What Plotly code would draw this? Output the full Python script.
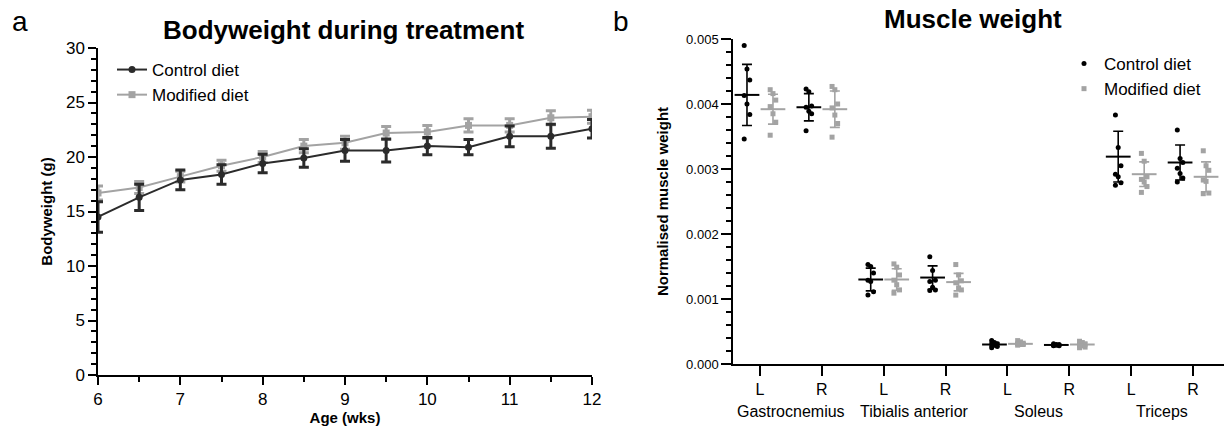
import plotly.graph_objects as go

# ---------------- data: panel a ----------------
ages = [6, 6.5, 7, 7.5, 8, 8.5, 9, 9.5, 10, 10.5, 11, 11.5, 12]
ctrl_bw = [14.5, 16.3, 17.9, 18.4, 19.4, 19.9, 20.6, 20.6, 21.0, 20.9, 21.9, 21.9, 22.6]
ctrl_bw_err = [1.4, 1.2, 0.9, 0.9, 0.85, 0.85, 1.0, 1.05, 0.8, 0.7, 0.95, 1.1, 0.85]
mod_bw = [16.7, 17.2, 18.2, 19.2, 20.0, 21.0, 21.3, 22.2, 22.3, 22.9, 22.9, 23.6, 23.7]
mod_bw_err = [0.65, 0.55, 0.5, 0.5, 0.5, 0.6, 0.6, 0.6, 0.6, 0.6, 0.6, 0.65, 0.6]

# ---------------- data: panel b ----------------
side_labels = ["L", "R", "L", "R", "L", "R", "L", "R"]
muscle_groups = ["Gastrocnemius", "Tibialis anterior", "Soleus", "Triceps"]
ctrl_points = [
    [0.00490, 0.00454, 0.00437, 0.00413, 0.00400, 0.00384, 0.00346],
    [0.00423, 0.00419, 0.00397, 0.00395, 0.00389, 0.00385, 0.00359],
    [0.00153, 0.00150, 0.00140, 0.00129, 0.00127, 0.00111, 0.00106],
    [0.00165, 0.00144, 0.00129, 0.00127, 0.00118, 0.00114, 0.00113],
    [0.00036, 0.00033, 0.00031, 0.00030, 0.00029, 0.00027, 0.00025],
    [0.00031, 0.00030, 0.00030, 0.00029, 0.00029, 0.00028, 0.00028],
    [0.00383, 0.00333, 0.00305, 0.00292, 0.00288, 0.00279, 0.00275],
    [0.00360, 0.00316, 0.00310, 0.00301, 0.00293, 0.00286, 0.00280],
]
mod_points = [
    [0.00422, 0.00416, 0.00406, 0.00396, 0.00385, 0.00372, 0.00352],
    [0.00427, 0.00422, 0.00400, 0.00394, 0.00383, 0.00370, 0.00349],
    [0.00154, 0.00149, 0.00137, 0.00129, 0.00122, 0.00114, 0.00109],
    [0.00153, 0.00137, 0.00128, 0.00125, 0.00117, 0.00114, 0.00106],
    [0.00036, 0.00034, 0.00032, 0.00031, 0.00030, 0.00030, 0.00029],
    [0.00035, 0.00033, 0.00031, 0.00029, 0.00028, 0.00026, 0.00025],
    [0.00324, 0.00312, 0.00288, 0.00284, 0.00280, 0.00273, 0.00264],
    [0.00328, 0.00305, 0.00298, 0.00283, 0.00281, 0.00263, 0.00262],
]
ctrl_mean = [0.00414, 0.00395, 0.00130, 0.00133, 0.00030, 0.000293, 0.00319, 0.00310]
ctrl_sd = [0.00047, 0.00021, 0.000175, 0.00018, 0.00003, 0.000012, 0.00039, 0.00027]
mod_mean = [0.00392, 0.00392, 0.00130, 0.00126, 0.00031, 0.00030, 0.00292, 0.00288]
mod_sd = [0.00023, 0.00028, 0.000165, 0.000135, 0.00002, 0.00003, 0.00019, 0.00023]

DARK = "#2b2b2b"
GRAY = "#a3a3a3"
FONT = "Liberation Sans, Arial, sans-serif"
W, H = 1226, 426


def px(x):
    return x / W


def py(y):
    return 1 - y / H


fig = go.Figure()

# ---------- panel a ----------
fig.add_trace(go.Scatter(
    x=ages, y=mod_bw, mode="lines+markers", name="Modified diet",
    line=dict(color=GRAY, width=2), marker=dict(symbol="square", size=7, color=GRAY),
    error_y=dict(type="data", array=mod_bw_err, color=GRAY, thickness=3, width=5),
    xaxis="x", yaxis="y", legend="legend"))
fig.add_trace(go.Scatter(
    x=ages, y=ctrl_bw, mode="lines+markers", name="Control diet",
    line=dict(color=DARK, width=2), marker=dict(symbol="circle", size=7, color=DARK),
    error_y=dict(type="data", array=ctrl_bw_err, color=DARK, thickness=3, width=5),
    xaxis="x", yaxis="y", legend="legend"))

# ---------- panel b ----------
OFF = 0.21
HALF = 0.2
for series, pts, means, sds, col, sym, name in [
    ("c", ctrl_points, ctrl_mean, ctrl_sd, "black", "circle", "Control diet"),
    ("m", mod_points, mod_mean, mod_sd, GRAY, "square", "Modified diet"),
]:
    shift = -OFF if series == "c" else OFF
    xs, ys = [], []
    for i, grp in enumerate(pts):
        for j, v in enumerate(grp):
            xs.append(i + shift + ((j % 3) - 1) * 0.045)
            ys.append(v)
    centers = [i + shift for i in range(len(means))]
    fig.add_trace(go.Scatter(
        x=centers, y=means, mode="markers", marker=dict(size=1, opacity=0),
        error_y=dict(type="data", array=sds, color=col, thickness=1.6, width=5),
        showlegend=False, hoverinfo="skip", xaxis="x2", yaxis="y2"))
    mx, my = [], []
    for c, m in zip(centers, means):
        mx += [c - HALF, c + HALF, None]
        my += [m, m, None]
    fig.add_trace(go.Scatter(
        x=mx, y=my, mode="lines", line=dict(color=col, width=2),
        showlegend=False, hoverinfo="skip", xaxis="x2", yaxis="y2"))
    fig.add_trace(go.Scatter(
        x=xs, y=ys, mode="markers", name=name,
        marker=dict(symbol=sym, size=5, color=col),
        xaxis="x2", yaxis="y2", legend="legend2"))

axis_common = dict(showgrid=False, zeroline=False, showline=True, linecolor="black",
                   linewidth=1.5, ticks="outside", tickcolor="black", tickwidth=1.5,
                   automargin=False)

fig.update_layout(
    width=W, height=H, margin=dict(l=0, r=0, t=0, b=0, autoexpand=False),
    paper_bgcolor="white", plot_bgcolor="white",
    font=dict(family=FONT, color="black"),
    xaxis=dict(domain=[px(98), px(592)], range=[6, 12], anchor="y",
               tickvals=ages[::2], ticklen=8,
               minor=dict(dtick=0.5, ticklen=5, ticks="outside", tickcolor="black", tickwidth=1.5),
               tickfont=dict(size=17),
               title=dict(text="<b>Age (wks)</b>", font=dict(size=15), standoff=2),
               **axis_common),
    yaxis=dict(domain=[py(375), py(48)], range=[0, 30], anchor="x",
               tickvals=[0, 5, 10, 15, 20, 25, 30], ticklen=8,
               minor=dict(dtick=1, ticklen=5, ticks="outside", tickcolor="black", tickwidth=1.5),
               tickfont=dict(size=17),
               title=dict(text="<b>Bodyweight (g)</b>", font=dict(size=15), standoff=10),
               **axis_common),
    xaxis2=dict(domain=[px(733), px(1224)], range=[-0.436, 7.5], anchor="y2",
                tickvals=list(range(len(side_labels))), ticktext=side_labels, ticklen=10,
                tickfont=dict(size=16), **axis_common),
    yaxis2=dict(domain=[py(364), py(39)], range=[0, 0.005], anchor="x2",
                tickvals=[0, 0.001, 0.002, 0.003, 0.004, 0.005], tickformat=".3f", ticklen=10,
                minor=dict(dtick=0.0002, ticklen=5, ticks="outside", tickcolor="black", tickwidth=1.5),
                tickfont=dict(size=13),
                title=dict(text="<b>Normalised muscle weight</b>", font=dict(size=15), standoff=14),
                **axis_common),
    legend=dict(x=px(112), y=py(52), xanchor="left", yanchor="top",
                font=dict(size=17), bgcolor="rgba(0,0,0,0)", traceorder="reversed",
                tracegroupgap=3, itemwidth=30),
    legend2=dict(x=px(1064), y=py(46), xanchor="left", yanchor="top",
                 font=dict(size=17), bgcolor="rgba(0,0,0,0)", itemwidth=30),
    showlegend=True,
)

annotations = [
    dict(text="a", x=px(20), y=py(22)),
    dict(text="b", x=px(621), y=py(22)),
    dict(text="<b>Bodyweight during treatment</b>", x=px(343), y=py(30)),
    dict(text="<b>Muscle weight</b>", x=px(973), y=py(19)),
]
sizes = [28, 28, 26, 26]
for a, s in zip(annotations, sizes):
    a.update(xref="paper", yref="paper", showarrow=False, xanchor="center",
             yanchor="middle", font=dict(size=s))
for k, g in enumerate(muscle_groups):
    annotations.append(dict(text=g, x=2 * k + 0.5, y=py(411), xref="x2", yref="paper",
                            showarrow=False, xanchor="center", yanchor="middle",
                            font=dict(size=16)))
fig.update_layout(annotations=annotations)

fig.write_html(
    "out.html",
    config={"displayModeBar": False},
    post_script="document.body.style.margin='0px';document.body.style.padding='0px';"
                "document.body.style.overflow='hidden';",
)
